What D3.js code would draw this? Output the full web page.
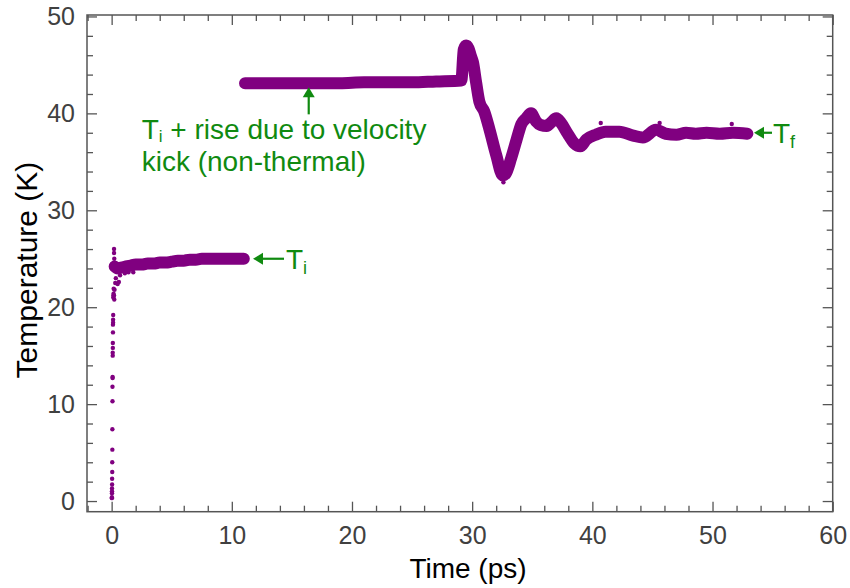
<!DOCTYPE html>
<html>
<head>
<meta charset="utf-8">
<script src="https://cdn.jsdelivr.net/npm/d3@7"></script>
<style>
  body { margin: 0; background: #fff; }
  text { font-family: "Liberation Sans", Arial, sans-serif; }
</style>
</head>
<body>
<div id="chart"></div>
<script>
//early heating points (scattered dots near t = 0)
var riseTime = [0.02, 0.02, 0.03, 0.03, 0.03, 0.04, 0.04, 0.05, 0.05, 0.06, 0.06, 0.07, 0.07, 0.08,
    0.08, 0.09, 0.09, 0.10, 0.10, 0.11, 0.11, 0.12, 0.12, 0.13, 0.14, 0.15, 0.16, 0.17,
    0.20, 0.20, 0.22, 0.20, 0.22, 0.24, 0.30, 0.35, 0.50, 0.60, 0.70, 1.10, 1.40, 1.80,
    29.20, 29.20, 29.25, 32.60, 40.70, 45.60, 51.60];
var riseTemp = [0.3, 0.4, 0.8, 1.0, 1.3, 1.7, 2.3, 3.0, 4.0, 5.3, 7.4, 10.3, 11.8, 12.7,
    12.8, 15.0, 15.3, 15.8, 16.3, 17.4, 18.2, 18.4, 18.7, 19.2, 21.0, 21.2, 21.4, 21.9,
    26.0, 25.6, 25.0, 21.2, 20.8, 21.8, 22.5, 23.0, 22.4, 22.6, 23.3, 23.5, 23.6, 23.6,
    44.0, 44.8, 45.5, 32.9, 39.0, 39.0, 38.9];

//equilibration at T_i
var eqTime = [0.25, 0.5, 0.8, 1.2, 1.6, 2.0, 2.5, 3.0, 3.5, 4.0, 4.5, 5.0, 5.5, 6.0,
    6.5, 7.0, 7.5, 8.0, 8.5, 9.0, 9.5, 10.0, 10.5, 11.0];
var eqTemp = [24.2, 24.0, 24.1, 24.2, 24.3, 24.4, 24.4, 24.5, 24.5, 24.6, 24.6, 24.7,
    24.8, 24.8, 24.9, 24.9, 25.0, 25.0, 25.0, 25.0, 25.0, 25.0, 25.0, 25.0];

//after velocity kick, then after second perturbation
var kickTime = [11.1, 13, 15, 17, 19, 21, 23, 25, 27, 29.1,
    29.3, 29.5, 29.7, 29.9, 30.06, 30.34, 30.6, 31.0, 31.45, 32.0, 32.55, 32.8, 33.25, 33.7,
    34.1, 34.5, 34.9, 35.3, 35.7, 36.2, 36.6, 37.0, 37.4, 37.95, 38.5, 39.0, 39.5, 40.3, 41.1,
    42.25, 43.4, 44.2, 45.3, 46.1, 47.0, 47.8, 48.6, 49.5, 50.6, 51.7, 52.9];
var kickTemp = [43.1, 43.1, 43.1, 43.1, 43.1, 43.2, 43.2, 43.2, 43.3, 43.4,
    46.6, 47.0, 46.7, 45.9, 45.3, 43.1, 41.2, 40.2, 38.3, 35.7, 33.6, 33.8, 35.4, 37.3,
    38.9, 39.5, 40.0, 39.2, 38.8, 38.7, 39.1, 39.5, 39.0, 37.9, 36.9, 36.6, 37.3, 37.8, 38.1,
    38.1, 37.7, 37.5, 38.3, 37.9, 37.8, 38.0, 37.9, 38.0, 37.9, 38.0, 37.9];

//ticks
var xMajor = [0, 10, 20, 30, 40, 50, 60];
var yMajor = [0, 10, 20, 30, 40, 50];

//svg size and plot box
var svgWidth = 850;
var svgHeight = 588;
var margin = {top: 15, right: 17.3, bottom: 76.3, left: 87};
var width = svgWidth - margin.left - margin.right;
var height = svgHeight - margin.top - margin.bottom;

var purple = "#800080";
var green = "#108a10";

var svg = d3.select("#chart").append("svg")
    .attr("width", svgWidth)
    .attr("height", svgHeight);

var chartGroup = svg.append("g")
    .attr("transform", `translate(${margin.left}, ${margin.top})`);

var xScale = d3.scaleLinear().domain([-2.05, 60]).range([0, width]);
var yScale = d3.scaleLinear().domain([-1.1, 50.15]).range([height, 0]);

var xMinor = d3.range(-2, 61, 2).filter(d => d % 10 != 0);
var yMinor = d3.range(0, 51, 2).filter(d => d % 10 != 0);

//axes with inward ticks on all four sides
function drawAxis(axis, tr, labels) {
    var g = chartGroup.append("g")
        .attr("transform", tr)
        .call(axis);
    g.select(".domain").remove();
    g.selectAll("line").attr("stroke", "#555").attr("stroke-width", 1.3);
    g.selectAll("text")
        .attr("fill", "#404040")
        .style("font-size", "25px")
        .style("font-family", '"Liberation Sans", Arial, sans-serif');
    if (!labels) g.selectAll("text").remove();
    return g;
}

drawAxis(d3.axisBottom(xScale).tickValues(xMajor).tickSize(-10).tickPadding(15), `translate(0, ${height})`, true);
drawAxis(d3.axisBottom(xScale).tickValues(xMinor).tickSize(-6), `translate(0, ${height})`, false);
drawAxis(d3.axisTop(xScale).tickValues(xMajor).tickSize(-10), "translate(0, 0)", false);
drawAxis(d3.axisTop(xScale).tickValues(xMinor).tickSize(-6), "translate(0, 0)", false);
drawAxis(d3.axisLeft(yScale).tickValues(yMajor).tickSize(-10).tickPadding(12), "translate(0, 0)", true);
drawAxis(d3.axisLeft(yScale).tickValues(yMinor).tickSize(-6), "translate(0, 0)", false);
drawAxis(d3.axisRight(yScale).tickValues(yMajor).tickSize(-10), `translate(${width}, 0)`, false);
drawAxis(d3.axisRight(yScale).tickValues(yMinor).tickSize(-6), `translate(${width}, 0)`, false);

//frame
chartGroup.append("rect")
    .attr("width", width)
    .attr("height", height)
    .attr("fill", "none")
    .attr("stroke", "#555")
    .attr("stroke-width", 1.5);

//data bands
var line = d3.line()
    .curve(d3.curveMonotoneX)
    .x(d => xScale(d[0]))
    .y(d => yScale(d[1]));

var eqData = d3.zip(eqTime, eqTemp);
var kickData = d3.zip(kickTime, kickTemp);

[eqData, kickData].forEach(function(data) {
    chartGroup.append("path")
        .datum(data)
        .attr("d", line)
        .attr("fill", "none")
        .attr("stroke", purple)
        .attr("stroke-width", 12)
        .attr("stroke-linejoin", "round")
        .attr("stroke-linecap", "round");
});

chartGroup.selectAll(".dot")
    .data(d3.zip(riseTime, riseTemp))
    .enter()
    .append("circle")
    .classed("dot", true)
    .attr("cx", d => xScale(d[0]))
    .attr("cy", d => yScale(d[1]))
    .attr("r", 2.2)
    .attr("fill", purple);

//annotations
function hArrow(x1, x2, y) {
    chartGroup.append("line")
        .attr("x1", x1 + 4).attr("x2", x2)
        .attr("y1", y).attr("y2", y)
        .attr("stroke", green).attr("stroke-width", 2.2);
    chartGroup.append("path")
        .attr("d", `M${x1},${y} l10,-6 l0,12 z`)
        .attr("fill", green);
}

function subLabel(x, y, main, sub) {
    var t = chartGroup.append("text")
        .attr("x", x).attr("y", y)
        .attr("fill", green)
        .style("font-size", "28px");
    t.append("tspan").text(main);
    t.append("tspan").attr("dy", 5).style("font-size", "18px").text(sub);
    return t;
}

//T_i marker
var yTi = yScale(25);
hArrow(253 - margin.left, 284 - margin.left, yTi);
subLabel(286 - margin.left, yTi + 10, "T", "i");

//T_f marker
var yTf = yScale(38);
hArrow(754 - margin.left, 772 - margin.left, yTf);
subLabel(773 - margin.left, yTf + 10, "T", "f");

//vertical arrow to the kicked plateau
var xa = xScale(16.4);
chartGroup.append("line")
    .attr("x1", xa).attr("x2", xa)
    .attr("y1", yScale(42.3)).attr("y2", yScale(39.9))
    .attr("stroke", green).attr("stroke-width", 2.2);
chartGroup.append("path")
    .attr("d", `M${xa},${yScale(42.7)} l-6,10 l12,0 z`)
    .attr("fill", green);

var note = chartGroup.append("text")
    .attr("x", 141.7 - margin.left)
    .attr("y", 139.3 - margin.top)
    .attr("fill", green)
    .style("font-size", "28px");
note.append("tspan").text("T");
note.append("tspan").attr("dy", 3).style("font-size", "17px").text("i");
note.append("tspan").attr("dy", -3).text(" + rise due to velocity");

chartGroup.append("text")
    .attr("x", 141.7 - margin.left)
    .attr("y", 171 - margin.top)
    .attr("fill", green)
    .style("font-size", "28px")
    .text("kick (non-thermal)");

//axis titles
svg.append("text")
    .attr("x", 468)
    .attr("y", 578)
    .attr("text-anchor", "middle")
    .attr("fill", "#000")
    .style("font-size", "28px")
    .text("Time (ps)");

svg.append("text")
    .attr("transform", "translate(37, 270) rotate(-90)")
    .attr("text-anchor", "middle")
    .attr("fill", "#000")
    .style("font-size", "30px")
    .text("Temperature (K)");
</script>
</body>
</html>
